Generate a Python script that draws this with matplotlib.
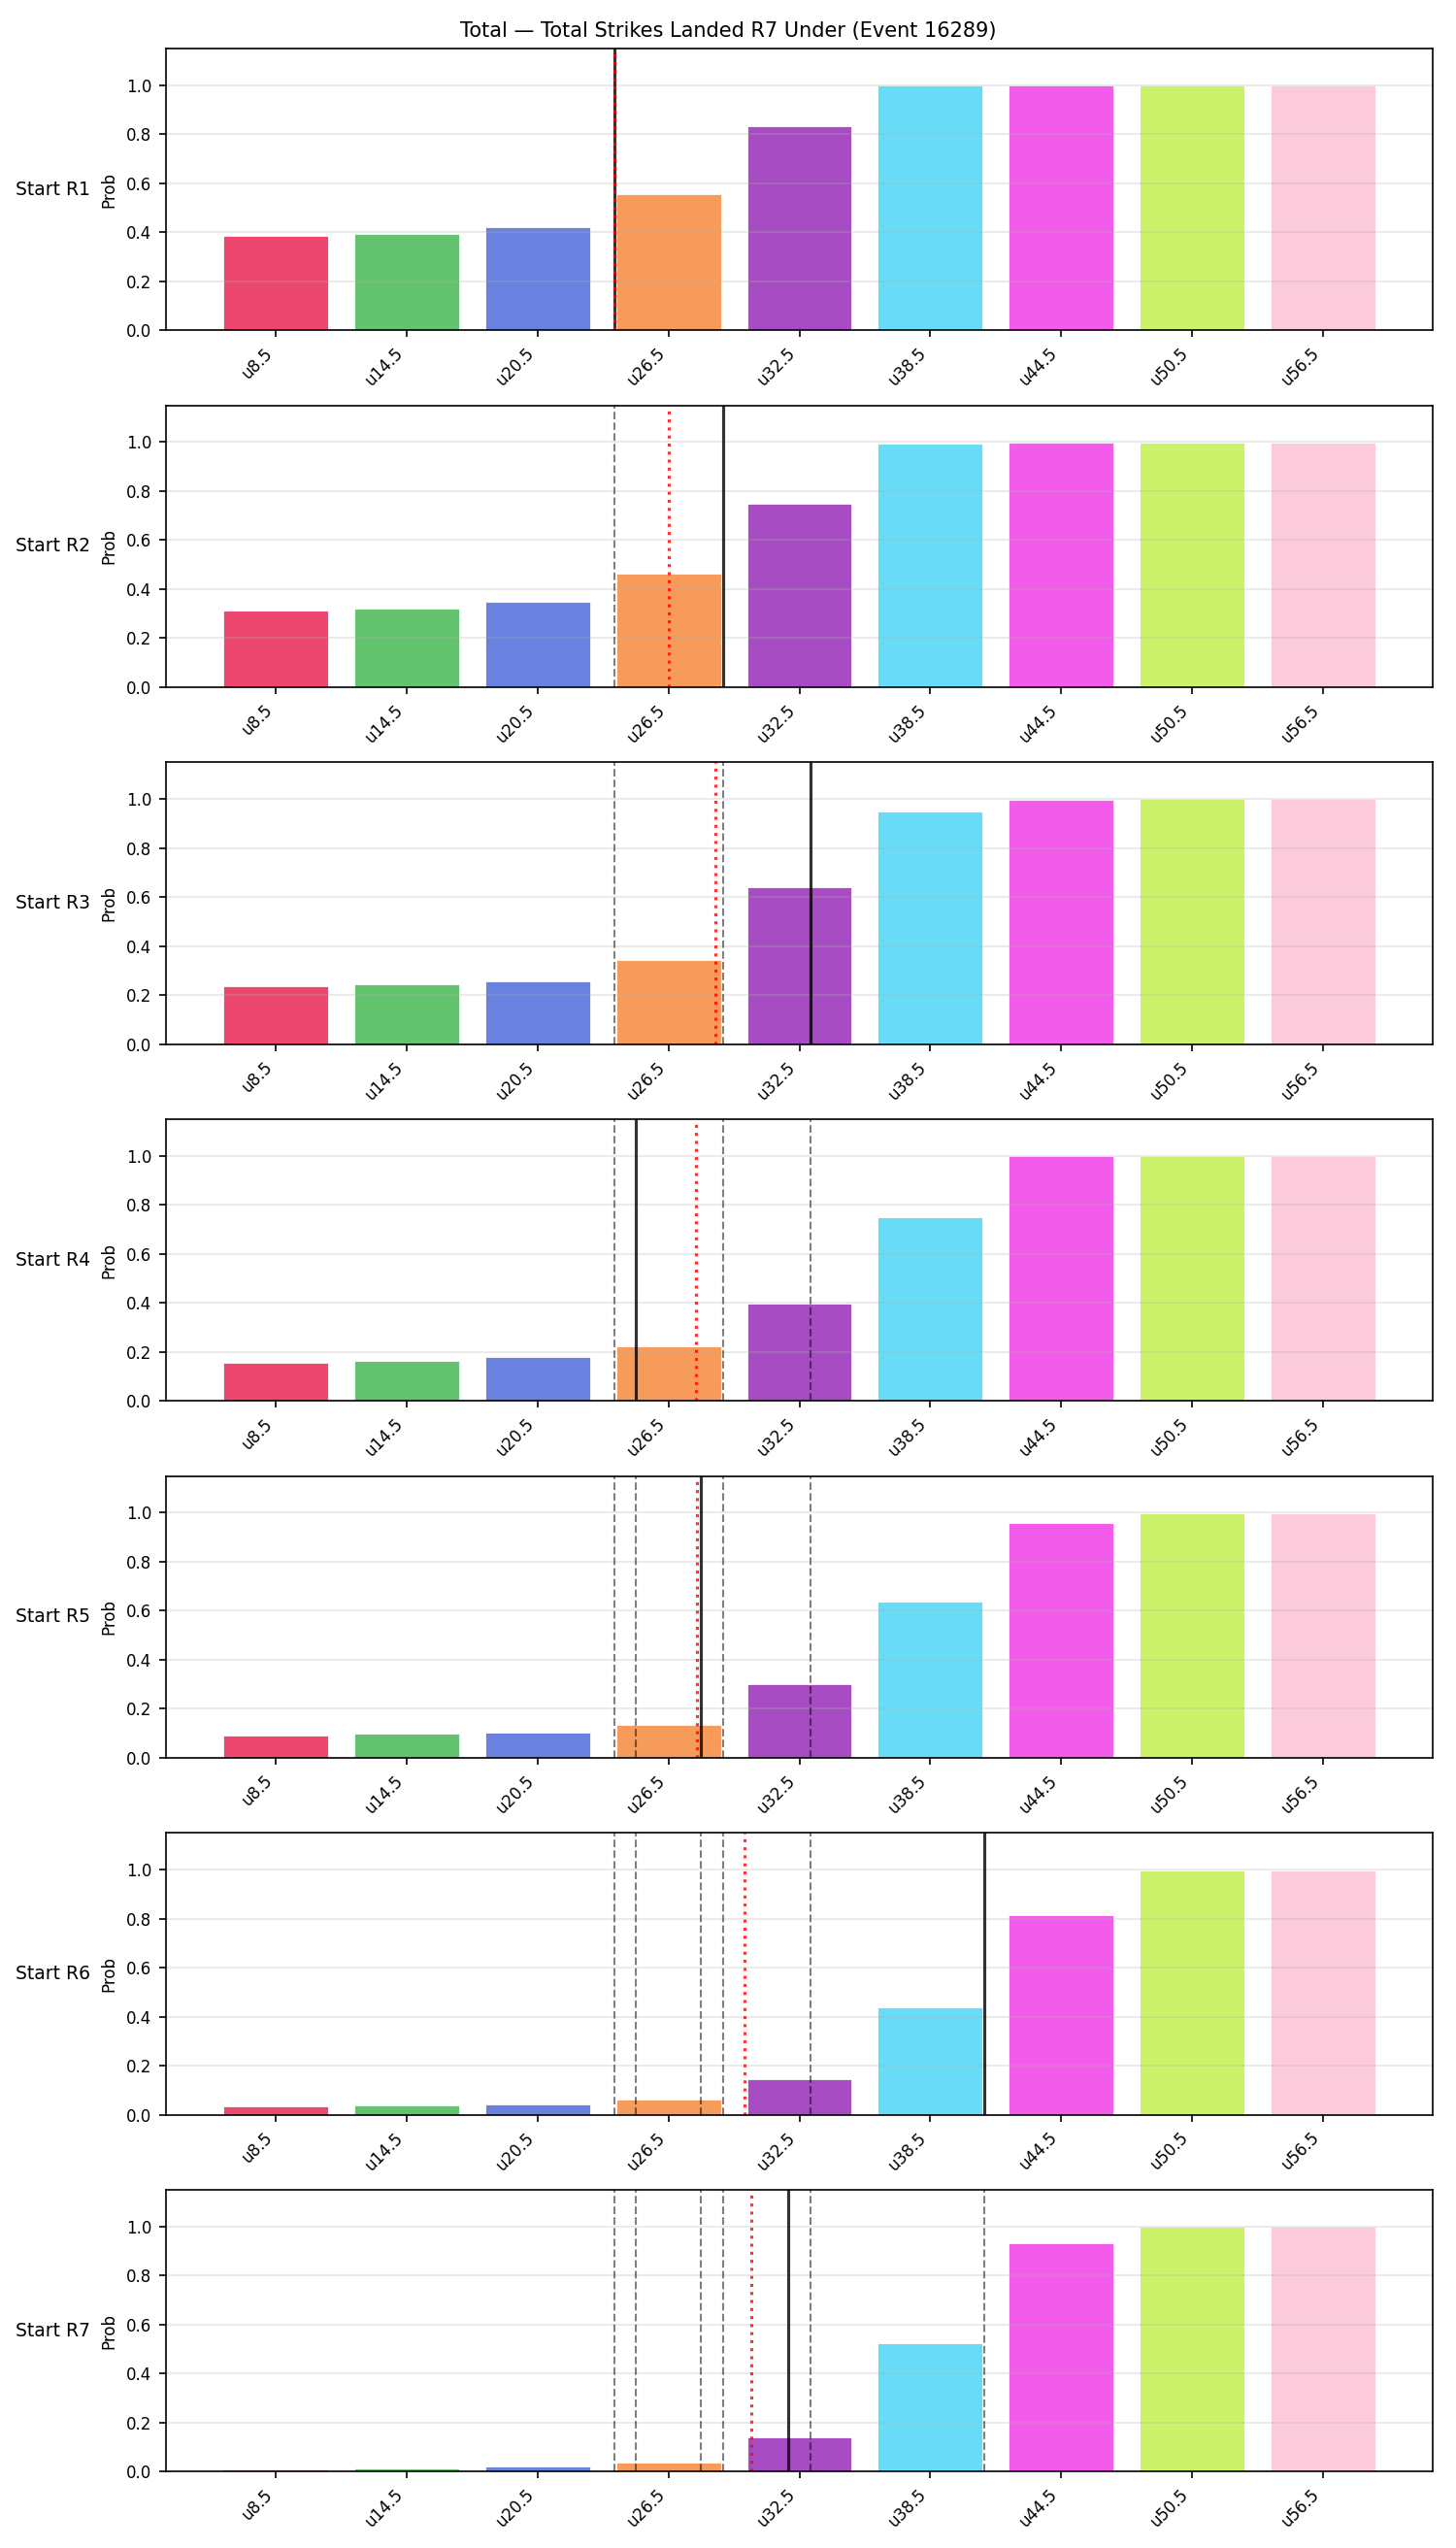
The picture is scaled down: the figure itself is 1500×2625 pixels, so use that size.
import numpy as np
import matplotlib
matplotlib.use('Agg')
import matplotlib.pyplot as plt

# under lines on the x axis
categories = ['u8.5', 'u14.5', 'u20.5', 'u26.5', 'u32.5', 'u38.5', 'u44.5', 'u50.5', 'u56.5']
line_values = [8.5, 14.5, 20.5, 26.5, 32.5, 38.5, 44.5, 50.5, 56.5]
bar_colors = ['#e6194b', '#3cb44b', '#4363d8', '#f58231', '#911eb4',
              '#42d4f4', '#f032e6', '#bfef45', '#fabed4']

row_labels = ['Start R1', 'Start R2', 'Start R3', 'Start R4', 'Start R5', 'Start R6', 'Start R7']

# P(under) for each starting round
prob_r1 = [0.386, 0.395, 0.422, 0.557, 0.834, 0.998, 0.999, 0.999, 0.999]
prob_r2 = [0.313, 0.320, 0.349, 0.463, 0.750, 0.993, 0.997, 0.998, 0.998]
prob_r3 = [0.235, 0.244, 0.256, 0.344, 0.638, 0.950, 0.998, 0.999, 0.999]
prob_r4 = [0.155, 0.162, 0.178, 0.223, 0.397, 0.751, 0.998, 0.999, 0.999]
prob_r5 = [0.091, 0.097, 0.103, 0.134, 0.302, 0.636, 0.959, 0.998, 0.998]
prob_r6 = [0.033, 0.036, 0.040, 0.060, 0.143, 0.438, 0.816, 0.998, 0.998]
prob_r7 = [0.007, 0.011, 0.020, 0.036, 0.139, 0.522, 0.930, 0.999, 0.999]
probs = [prob_r1, prob_r2, prob_r3, prob_r4, prob_r5, prob_r6, prob_r7]

# strikes landed in each round (solid = this round, dashed = earlier ones, red = running mean)
round_totals = [24, 29, 33, 25, 28, 41, 32]

title = 'Total — Total Strikes Landed R7 Under (Event 16289)'


def to_pos(v):
    # map a strike total onto the bar index axis
    return np.interp(v, line_values, np.arange(len(line_values)))


fig, axes = plt.subplots(len(row_labels), 1, figsize=(10, 17.5), dpi=150)
fig.subplots_adjust(left=0.114, right=0.984, top=0.981, bottom=0.030, hspace=0.266)

x = np.arange(len(categories))
for i, ax in enumerate(axes):
    ax.bar(x, probs[i], width=0.8, color=bar_colors, alpha=0.8, edgecolor='white', linewidth=0.5)
    for v in round_totals[:i]:
        ax.axvline(to_pos(v), color='k', linestyle='--', linewidth=1.0, alpha=0.5)
    ax.axvline(to_pos(round_totals[i]), color='k', linestyle='-', linewidth=1.5, alpha=0.8)
    ax.axvline(to_pos(np.mean(round_totals[:i + 1])), color='red', linestyle=':', linewidth=1.5, alpha=0.8)

    ax.set_ylim(0, 1.15)
    ax.set_yticks([0.0, 0.2, 0.4, 0.6, 0.8, 1.0])
    ax.set_xticks(x)
    ax.set_xticklabels(categories, rotation=45, ha='right')
    ax.tick_params(labelsize=8)
    ax.set_ylabel('Prob', fontsize=8)
    ax.grid(axis='y', alpha=0.3)
    ax.text(-0.06, 0.5, row_labels[i], transform=ax.transAxes, ha='right', va='center', fontsize=9)

fig.suptitle(title, fontsize=10, y=0.9915, va='top')
fig.savefig('out.png', dpi=150)
